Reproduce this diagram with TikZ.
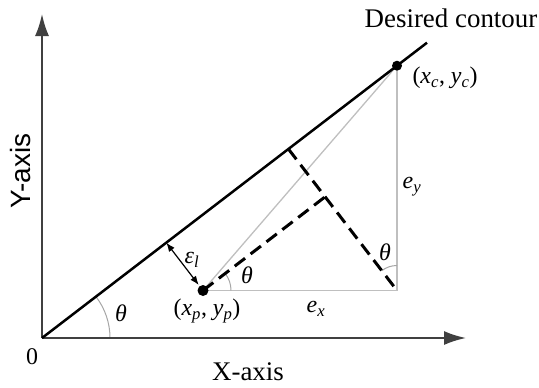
\documentclass[tikz,border=0pt]{standalone}
\usepackage{fontspec}
\setmainfont{Liberation Serif}
\newfontfamily\sansf{Liberation Sans}
\usetikzlibrary{calc,arrows.meta}
\newcommand\mv[2]{\textit{#1}\textsubscript{\textit{#2}}}
\begin{document}
\begin{tikzpicture}[x=1bp,y=1bp,
  axisline/.style={line width=2bp, draw=black!75, -{Latex[length=22bp,width=14bp]}},
  contour/.style={line width=2.5bp, draw=black},
  guide/.style={line width=1.3bp, draw=black!25},
  dashline/.style={line width=3bp, draw=black, dash pattern=on 13bp off 7bp},
  anglearc/.style={line width=1bp, draw=black!35},
  lbl/.style={font=\fontsize{24}{26}\selectfont, inner sep=0pt},
]
\useasboundingbox (0,0) rectangle (539,387);
\coordinate (O) at (42,49);
\coordinate (Xe) at (466,49);
\coordinate (Ye) at (42,373);
\coordinate (C) at (397,321.3);
\coordinate (Ce) at (427,344.3);
\coordinate (P) at (203,96.5);
\coordinate (Q) at (397,96.5);
\coordinate (F) at ($(O)!(Q)!(C)$);
\coordinate (R) at ($(Q)!(P)!(F)$);
\coordinate (G) at ($(O)!(P)!(C)$);
% guides
\draw[guide] (P) -- (Q) -- (C);
\draw[guide] (P) -- (C);
% angle arcs
\draw[anglearc] ($(O)+(68,0)$) arc[start angle=0,end angle=37.5,radius=68];
\draw[anglearc] ($(P)+(28,0)$) arc[start angle=0,end angle=37.5,radius=28];
\draw[anglearc] ($(Q)+(0,25)$) arc[start angle=90,end angle=127.5,radius=25];
% dashed
\draw[dashline] (F) -- (Q);
\draw[dashline] (P) -- (R);
% axes and contour
\draw[axisline] (O) -- (Xe);
\draw[axisline] (O) -- (Ye);
\draw[contour] (O) -- (Ce);
% error arrow
\draw[line width=1.2bp, {Latex[length=9bp,width=7bp]}-{Latex[length=9bp,width=7bp]}, shorten >=7bp] (G) -- (P);
% dots
\fill (P) circle (5.5bp);
\fill (C) circle (5bp);
% labels
\node[lbl, font=\fontsize{27}{29}\selectfont] (dc) at (451,369) {Desired contour};
\node[lbl] (lc) at (445,309) {(\mv{x}{c}, \mv{y}{c})};
\node[lbl] (lp) at (207,76) {(\mv{x}{p}, \mv{y}{p})};
\node[lbl] (ex) at (316,78) {\mv{e}{x}};
\node[lbl] (ey) at (412,200) {\mv{e}{y}};
\node[lbl] (t1) at (121,74) {\textit{θ}};
\node[lbl] (t2) at (247,112) {\textit{θ}};
\node[lbl] (t3) at (385,135) {\textit{θ}};
\node[lbl] (el) at (192,127) {\mv{ε}{l}};
\node[lbl] (zero) at (32,30) {0};
\node[lbl, font=\fontsize{27}{29}\selectfont] (xa) at (248,15) {X-axis};
\node[lbl, font=\sansf\fontsize{28}{30}\selectfont, rotate=90] (ya) at (21,216) {Y-axis};
\end{tikzpicture}
\end{document}
